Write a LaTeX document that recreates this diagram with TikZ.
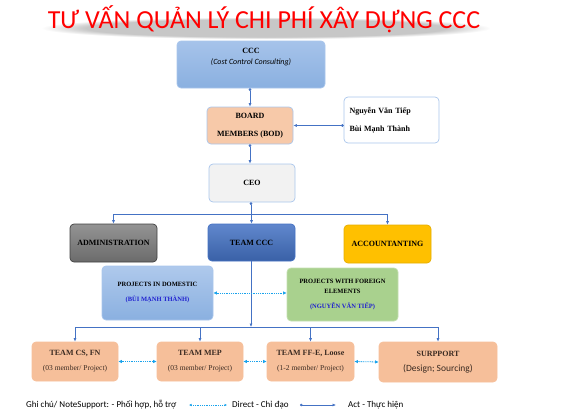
\documentclass[tikz,border=0pt]{standalone}
\usepackage{fontspec}
\setmainfont{Liberation Serif}
\newfontfamily\calib{Carlito}
\usetikzlibrary{arrows.meta,positioning,fadings}

\definecolor{linkblue}{HTML}{4472C4}
\definecolor{coopblue}{HTML}{1AA3EC}
\definecolor{edgeblue}{HTML}{A9C6EC}
\definecolor{cccfill}{HTML}{A6C3EA}
\definecolor{cccfoot}{HTML}{8AB0E0}
\definecolor{teamfill}{HTML}{F6BF9A}
\definecolor{teamtext}{HTML}{3B2B22}
\definecolor{namecol}{HTML}{1F1FD0}
\definecolor{foreignfill}{HTML}{A9D18E}
\definecolor{accfill}{HTML}{FFC000}

\begin{document}
\begin{tikzpicture}[
    x=1pt, y=-1pt,
    box/.style={
        draw=edgeblue,
        line width=0.7pt,
        rounded corners=4pt,
        align=center,
        inner sep=1pt,
        font=\bfseries\fontsize{8}{10}\selectfont
    },
    teambox/.style={
        box,
        draw=teamfill,
        fill=teamfill,
        text=teamtext,
        minimum width=86pt,
        minimum height=39pt
    },
    link/.style={draw=linkblue, line width=0.6pt},
    act/.style={link, {Circle[length=2.6pt]}-{Latex[length=3.5pt,width=3pt]}},
    drop/.style={link, -{Latex[length=3.5pt,width=3pt]}},
    coop/.style={
        draw=coopblue,
        line width=0.8pt,
        dash pattern=on 1pt off 0.8pt,
        {Latex[length=3.5pt,width=3.5pt]}-{Latex[length=3.5pt,width=3.5pt]}
    }]

    \useasboundingbox (0,0) rectangle (572,415);

    % title with soft shadow
    \fill[black, opacity=0.22, path fading=circle with fuzzy edge 20 percent] (42,17) rectangle (490,39);
    \node (title) [text=red, font=\calib\fontsize{26}{30}\selectfont]
        at (264,19) {TƯ VẤN QUẢN LÝ CHI PHÍ XÂY DỰNG CCC};

    % upper levels
    \node (ccc) [box, top color=cccfill, bottom color=cccfoot,
        minimum width=148pt, minimum height=47pt,
        label={[align=center, yshift=7pt, font=\fontsize{8}{11}\selectfont]center:{\textbf{CCC}\\
        {\calib\itshape (Cost Control Consulting)}}}]
        at (251,64.5) {};
    \node (bod) [box, fill=teamfill!85!white, minimum width=86pt, minimum height=37pt,
        font=\bfseries\fontsize{8}{18}\selectfont]
        at (250,125.5) {BOARD\\MEMBERS (BOD)};
    \node (names) [box, fill=white, minimum width=95pt, minimum height=46pt, align=left,
        font=\bfseries\fontsize{8}{18}\selectfont, text width=84pt]
        at (391.5,120) {Nguyễn Văn Tiếp\\Bùi Mạnh Thành};
    \node (ceo) [box, fill=black!5, minimum width=86pt, minimum height=38pt]
        at (252,183) {CEO};

    % departments
    \node (admin) [box, draw=black!75, top color=black!42, bottom color=black!58,
        minimum width=87pt, minimum height=38pt]
        at (113.5,243) {ADMINISTRATION};
    \node (teamccc) [box, draw=linkblue, top color=linkblue!85!white, bottom color=linkblue!85!black,
        minimum width=87pt, minimum height=37pt]
        at (251.5,242.5) {TEAM CCC};
    \node (acc) [box, draw=accfill!90!black, fill=accfill,
        minimum width=87pt, minimum height=38pt]
        at (387.5,244) {ACCOUNTANTING};

    % project groups
    \node (dom) [box, top color=cccfill!90!white, bottom color=cccfoot,
        minimum width=111pt, minimum height=54pt,
        font=\bfseries\fontsize{6.5}{15}\selectfont]
        at (157.5,293) {PROJECTS IN DOMESTIC\\\textcolor{namecol}{(BÙI MẠNH THÀNH)}};
    \node (foreign) [box, draw=foreignfill!70!white, fill=foreignfill,
        minimum width=111pt, minimum height=53pt,
        font=\bfseries\fontsize{6.5}{10}\selectfont]
        at (342.5,294.5) {PROJECTS WITH FOREIGN\\ELEMENTS\\[5pt]\textcolor{namecol}{(NGUYỄN VĂN TIẾP)}};

    % teams
    \node (cs) [teambox] at (75,361.5)
        {TEAM CS, FN\\[5pt]{\mdseries\fontsize{7.5}{9}\selectfont (03 member/ Project)}};
    \node (mep) [teambox] at (200,361.5)
        {TEAM MEP\\[5pt]{\mdseries\fontsize{7.5}{9}\selectfont (03 member/ Project)}};
    \node (ffe) [teambox, minimum width=87pt] at (310.5,361.5)
        {TEAM FF-E, Loose\\[5pt]{\mdseries\fontsize{7.5}{9}\selectfont (1-2 member/ Project)}};
    \node (sup) [teambox, minimum width=118pt, minimum height=40pt] at (438,362)
        {SURPPORT\\[5pt]{\calib\mdseries\fontsize{9.5}{11}\selectfont (Design; Sourcing)}};

    % connectors
    \coordinate (bus1) at (251,214);
    \coordinate (bus2) at (251,327);
    \draw[act] (ccc.south -| bod) -- (bod.north);
    \draw[act] (names.west |- bod) -- (bod.east);
    \draw[act] (bod.south) -- (bod.south |- ceo.north);
    \draw[link, {Circle[length=2.6pt]}-] (ceo.south -| bus1) -- (bus1);
    \draw[link] (bus1 -| admin) -- (bus1 -| acc);
    \foreach \n in {admin, teamccc, acc}
        \draw[drop] (bus1 -| \n) -- (\n.north);
    \draw[drop] (teamccc.south -| bus2) -- (bus2);
    \draw[link] (bus2 -| cs) -- (bus2 -| sup);
    \foreach \n in {cs, mep, ffe, sup}
        \draw[drop] (bus2 -| \n) -- (\n.north);
    \draw[coop] (dom.east) -- (foreign.west |- dom.east);
    \draw[coop] (cs.east) -- (mep.west);
    \draw[coop] (mep.east) -- (ffe.west);
    \draw[coop] (ffe.east) -- (sup.west);

    % legend
    \node (note) [anchor=west, inner sep=0pt, font=\calib\fontsize{9}{10}\selectfont]
        at (26,405) {Ghi chú/ NoteSupport: - Phối hợp, hỗ trợ};
    \coordinate (coop-a) at (189,405);
    \coordinate (coop-b) at (227,405);
    \node (direct) [anchor=west, inner sep=0pt, font=\calib\fontsize{9}{10}\selectfont]
        at (232,405) {Direct - Chỉ đạo};
    \coordinate (act-a) at (300,405);
    \coordinate (act-b) at (336,405);
    \node (actnote) [anchor=west, inner sep=0pt, font=\calib\fontsize{9}{10}\selectfont]
        at (348,405) {Act - Thực hiện};
    \draw[coop, line width=0.6pt, {Latex[length=2.5pt,width=2.5pt]}-{Latex[length=2.5pt,width=2.5pt]}]
        (coop-a) -- (coop-b);
    \draw[act] (act-a) -- (act-b);
\end{tikzpicture}
\end{document}
